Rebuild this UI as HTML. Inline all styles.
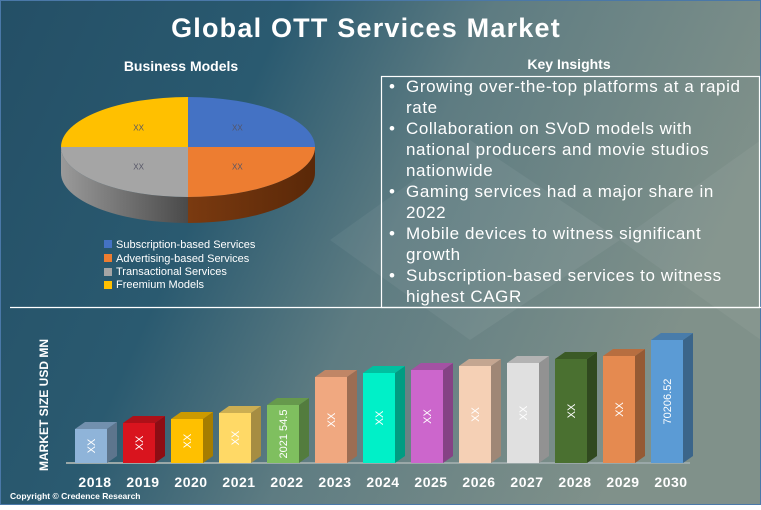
<!DOCTYPE html>
<html><head><meta charset="utf-8"><style>
html,body{margin:0;padding:0}
body{width:761px;height:505px;overflow:hidden;font-family:"Liberation Sans",sans-serif}
</style></head><body>
<svg width="761" height="505" xmlns="http://www.w3.org/2000/svg">
<defs>
<linearGradient id="bg" x1="0" y1="0" x2="1" y2="0.3">
<stop offset="0" stop-color="#244f66"/><stop offset="0.35" stop-color="#2a5a70"/><stop offset="0.6" stop-color="#5e7c82"/><stop offset="1" stop-color="#80918a"/>
</linearGradient>
<linearGradient id="sideGray" x1="0" x2="1"><stop offset="0" stop-color="#9a9a9a"/><stop offset="1" stop-color="#4a4a4a"/></linearGradient>
<linearGradient id="sideOr" x1="0" x2="1"><stop offset="0" stop-color="#7a3a10"/><stop offset="1" stop-color="#5a2808"/></linearGradient>
</defs>
<rect width="761" height="505" fill="url(#bg)"/>
<polygon points="330,240 470,140 470,340" fill="#ffffff" opacity="0.05"/>
<polygon points="470,140 620,240 470,340" fill="#ffffff" opacity="0.06"/>
<polygon points="620,240 761,140 761,340" fill="#ffffff" opacity="0.05"/>
<rect x="0.5" y="0.5" width="760" height="504" fill="none" stroke="#4a78a8" stroke-width="1"/>
<text x="366" y="37" text-anchor="middle" font-size="27" font-weight="bold" letter-spacing="1.2" fill="#fff">Global OTT Services Market</text>
<text x="181" y="71" text-anchor="middle" font-size="14" font-weight="bold" fill="#fff">Business Models</text>
<text x="569" y="69" text-anchor="middle" font-size="14" font-weight="bold" fill="#fff">Key Insights</text>
<rect x="381.5" y="76.5" width="378" height="231" fill="none" stroke="#fff" stroke-width="1.2"/>
<line x1="10" y1="307.5" x2="761" y2="307.5" stroke="#fff" stroke-width="1.2"/>
<g font-size="17" letter-spacing="0.6" fill="#fff">
<text x="389" y="92">•</text><text x="406" y="92">Growing over-the-top platforms at a rapid</text><text x="406" y="113">rate</text>
<text x="389" y="134">•</text><text x="406" y="134">Collaboration on SVoD models with</text><text x="406" y="155">national producers and movie studios</text><text x="406" y="176">nationwide</text>
<text x="389" y="197">•</text><text x="406" y="197">Gaming services had a major share in</text><text x="406" y="218">2022</text>
<text x="389" y="239">•</text><text x="406" y="239">Mobile devices  to witness significant</text><text x="406" y="260">growth</text>
<text x="389" y="281">•</text><text x="406" y="281">Subscription-based services  to witness</text><text x="406" y="302">highest CAGR</text>
</g>
<g id="pie"></g>
<g font-size="11" fill="#fff">
<rect x="104" y="240" width="8" height="8" fill="#4472c4"/><text x="116" y="248">Subscription-based Services</text>
<rect x="104" y="254" width="8" height="8" fill="#ed7d31"/><text x="116" y="262">Advertising-based Services</text>
<rect x="104" y="268" width="8" height="8" fill="#a5a5a5"/><text x="116" y="275">Transactional Services</text>
<rect x="104" y="281" width="8" height="8" fill="#ffc000"/><text x="116" y="288">Freemium Models</text>
</g>
<text transform="translate(48,405) rotate(-90)" text-anchor="middle" font-size="12" font-weight="bold" fill="#fff">MARKET SIZE USD MN</text>
<line x1="66" y1="463" x2="690" y2="463" stroke="#9aa8a8" stroke-width="2"/>
<g id="bars"></g>
<text x="10" y="499" font-size="8.5" font-weight="bold" fill="#fff">Copyright © Credence Research</text>
</svg>
<script>
const years=["2018","2019","2020","2021","2022","2023","2024","2025","2026","2027","2028","2029","2030"];
const values=[34,40,44,50,58,86,90,93,97,100,104,107,123];
const barLabels=["XX","XX","XX","XX","2021 54.5","XX","XX","XX","XX","XX","XX","XX","70206.52"];
const barColors=["#8fb4d9","#d9141e","#ffc000","#ffd966","#7fbf5f","#f0a880","#00f0c8","#cc66cc","#f5d0b5","#e0e0e0","#4a7030","#e58a50","#5b9bd5"];
const pieLabels=["Subscription-based Services","Advertising-based Services","Transactional Services","Freemium Models"];
const pieValues=[25,25,25,25];
const pieColors=["#4472c4","#ed7d31","#a5a5a5","#ffc000"];
const NS="http://www.w3.org/2000/svg";
function mk(t,a,p){const e=document.createElementNS(NS,t);for(const k in a)e.setAttribute(k,a[k]);p.appendChild(e);return e;}
function shade(c,f){const n=parseInt(c.slice(1),16);let r=(n>>16)*f,g=((n>>8)&255)*f,b=(n&255)*f;return "rgb("+[r,g,b].map(v=>Math.min(255,Math.round(v))).join(",")+")";}
const bg=document.getElementById('bars');
const base=463,x0=75,step=48,bw=32,dx=10,dy=7;
function yS(v){return v*1.0;}
years.forEach((y,i)=>{
 const h=yS(values[i]),x=x0+i*step,top=base-h,c=barColors[i];
 const s=mk('polygon',{points:`${x+bw},${top} ${x+bw+dx},${top-dy} ${x+bw+dx},${base-dy} ${x+bw},${base}`,fill:shade(c,0.65)},bg);
 
 
 const t=mk('polygon',{points:`${x},${top} ${x+dx},${top-dy} ${x+bw+dx},${top-dy} ${x+bw},${top}`,fill:shade(c,0.8)},bg);
 
 
 const r=mk('rect',{x:x,y:top,width:bw,height:h,fill:c},bg);
 
 
 const cx=x+bw/2,cy=top+h/2;
 const lt=mk('text',{x:cx,y:cy+4,'text-anchor':'middle','font-size':'11',fill:'#fff',transform:`rotate(-90 ${cx} ${cy})`},bg);
 lt.textContent=barLabels[i];
 
 
 const yl=mk('text',{x:cx+4,y:487,'text-anchor':'middle','font-size':'14','font-weight':'bold','letter-spacing':'0.5',fill:'#fff'},bg);
 yl.textContent=y;
 
 
});
const pg=document.getElementById('pie');
const pcx=188,pcy=147,rx=127,ry=50,dep=26;
const tot=pieValues.reduce((a,b)=>a+b,0);
let a=-Math.PI/2;
const angs=pieValues.map(v=>{const s=a;a+=v/tot*2*Math.PI;return [s,a];});
const sideFill=["#2f5597",'url(#sideOr)','url(#sideGray)',"#b08000"];
angs.forEach(([s,e],i)=>{
 const s1=Math.max(s,0),e1=Math.min(e,Math.PI);
 if(e1<=s1)return;
 const p=(t,d)=>`${pcx+rx*Math.cos(t)},${pcy+ry*Math.sin(t)+d}`;
 const el=mk('path',{d:`M${p(s1,0)} A${rx},${ry} 0 0 1 ${p(e1,0)} L${p(e1,dep)} A${rx},${ry} 0 0 0 ${p(s1,dep)} Z`,fill:sideFill[i]},pg);
 
 
});
angs.forEach(([s,e],i)=>{
 const p=t=>`${pcx+rx*Math.cos(t)},${pcy+ry*Math.sin(t)}`;
 const large=(e-s)>Math.PI?1:0;
 const el=mk('path',{d:`M${pcx},${pcy} L${p(s)} A${rx},${ry} 0 ${large} 1 ${p(e)} Z`,fill:pieColors[i]},pg);
 
 
 const m=(s+e)/2;
 const lt=mk('text',{x:pcx+rx*0.55*Math.cos(m),y:pcy+ry*0.55*Math.sin(m)+3,'text-anchor':'middle','font-size':'8',fill:'#556'},pg);
 lt.textContent="XX";
 
 
});
</script>
</body></html>
